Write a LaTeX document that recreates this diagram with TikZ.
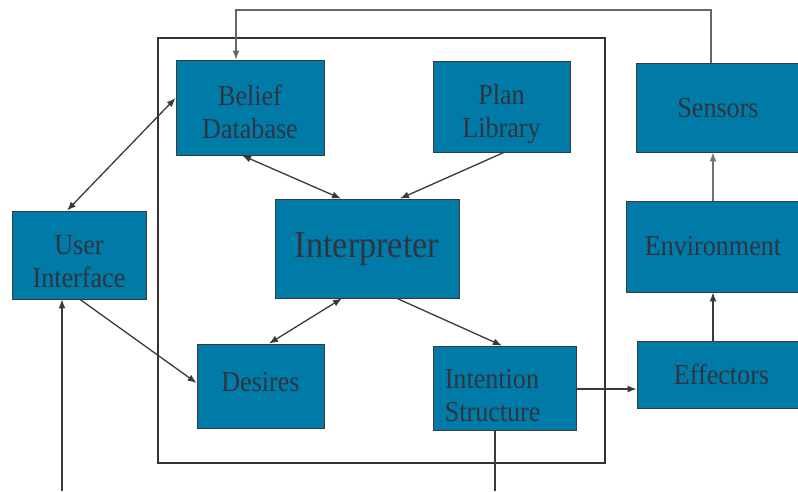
\documentclass[tikz,border=0pt]{standalone}
\usepackage{fontspec}
\setmainfont{Liberation Serif}
\usetikzlibrary{arrows.meta,calc}
\definecolor{boxfill}{RGB}{0,122,166}
\definecolor{boxtext}{RGB}{48,52,64}
\definecolor{wire}{RGB}{58,58,58}
\definecolor{framecol}{RGB}{50,50,50}
% condensed caption text
\newcommand{\cond}[1]{\scalebox{0.9}[1]{#1}}
\newcommand{\twolines}[2]{\cond{\begin{tabular}{@{}c@{}}#1\\#2\end{tabular}}}
\begin{document}
\begin{tikzpicture}[x=1pt,y=-1pt,
  comp/.style={draw=wire, line width=0.8pt, fill=boxfill, inner sep=0pt},
  captext/.style={text=boxtext, inner sep=0pt, font=\fontsize{29}{33}\selectfont},
  link/.style={draw=wire, line width=1.3pt},
  tip/.style={-{Latex[length=9pt,width=7pt]}},
  both/.style={{Latex[length=9pt,width=7pt]}-{Latex[length=9pt,width=7pt]}}]
\useasboundingbox (0,0) rectangle (798,491);

% agent boundary
\draw[framecol, line width=2pt] (158,38) rectangle (605,463);

% components, each caption set as a centred label
\node[comp, minimum width=148pt, minimum height=95pt,
  label={[captext, yshift=-7.5pt]center:\twolines{Belief}{Database}}] (belief) at (250,107.5) {};
\node[comp, minimum width=137pt, minimum height=91pt,
  label={[captext, yshift=-8pt]center:\twolines{Plan}{Library}}] (plan) at (501.5,106.5) {};
\node[comp, minimum width=184pt, minimum height=99pt,
  label={[captext, yshift=-0.5pt, font=\fontsize{38}{40}\selectfont]center:\cond{Interpreter}}] (interp) at (367,248.5) {};
\node[comp, minimum width=134pt, minimum height=88pt,
  label={[captext, yshift=-9pt]center:\twolines{User}{Interface}}] (ui) at (79,255) {};
\node[comp, minimum width=127pt, minimum height=84pt,
  label={[captext, yshift=4pt]center:\cond{Desires}}] (desires) at (260.5,386) {};
\node[comp, minimum width=143pt, minimum height=84pt,
  label={[captext, anchor=west, yshift=-10.5pt, xshift=12pt]west:\cond{\begin{tabular}{@{}l@{}}Intention\\Structure\end{tabular}}}] (intent) at (504.5,388) {};
\node[comp, minimum width=164pt, minimum height=89pt,
  label={[captext, yshift=-0.5pt]center:\cond{Sensors}}] (sensors) at (718,107.5) {};
\node[comp, minimum width=174pt, minimum height=91pt,
  label={[captext, yshift=0.5pt]center:\cond{Environment}}] (env) at (713,246.5) {};
\node[comp, minimum width=163pt, minimum height=67pt,
  label={[captext, xshift=3pt]center:\cond{Effectors}}] (effect) at (718.5,374.5) {};

% free ends
\coordinate (userin) at (62,491);
\coordinate (intout) at (495,491);
\coordinate (upR) at (711,10);
\coordinate (upL) at (236,10);

% connectors
\draw[link, both] ([xshift=-12pt]ui.north) -- ([yshift=9.5pt]belief.west);
\draw[link, both] ([xshift=-8pt]belief.south) -- ([xshift=-26pt]interp.north);
\draw[link, tip] ([xshift=2.5pt]plan.south) -- ([xshift=33pt]interp.north);
\draw[link, both] ([xshift=-25pt]interp.south) -- ([xshift=8.5pt]desires.north);
\draw[link, tip] ([xshift=30pt]interp.south) -- ([xshift=-2.5pt]intent.north);
\draw[link, tip] ([xshift=1pt]ui.south) -- ([yshift=3pt]desires.west);
\draw[link, tip] (userin) -- (userin |- ui.south);
\draw[link, tip] ([yshift=-1pt]intent.east) -- ([yshift=-1pt]intent.east -| effect.west);
\draw[link] (intout |- intent.south) -- (intout);
\draw[link, tip] (effect.north -| env.north) -- (env.north |- env.south) ;
\draw[link, tip, draw=gray!90!black] (env.north) -- (env.north |- sensors.south);
\draw[draw=gray!80!black, line width=1.1pt, tip] (upR |- sensors.north) -- (upR) -- (upL) -- (upL |- belief.north);
\end{tikzpicture}
\end{document}
